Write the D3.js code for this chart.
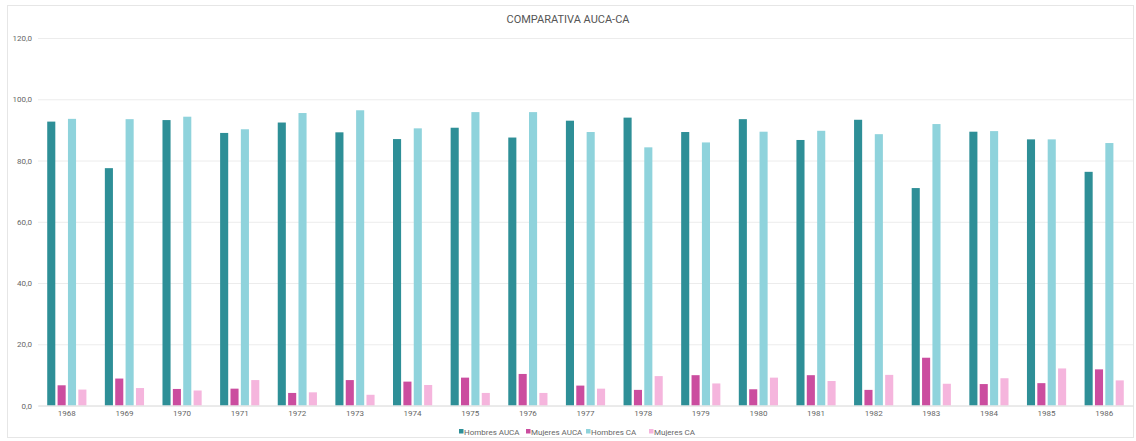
<!DOCTYPE html>
<html><head><meta charset="utf-8">
<script src="https://cdn.jsdelivr.net/npm/d3@7"></script>
<style>body{margin:0;background:#fff}svg{display:block}text{font-family:Roboto,"Liberation Sans",sans-serif}</style>
</head><body>
<svg id="c" width="1136" height="441"></svg>
<script>
const years = ["1968","1969","1970","1971","1972","1973","1974","1975","1976","1977","1978","1979","1980","1981","1982","1983","1984","1985","1986"];
const seriesNames = ["Hombres AUCA","Mujeres AUCA","Hombres CA","Mujeres CA"];
const hombresAUCA = [92.7,77.5,93.2,89.0,92.4,89.2,87.0,90.7,87.5,93.0,94.0,89.3,93.5,86.7,93.3,71.0,89.4,86.9,76.3];
const mujeresAUCA = [6.6,8.8,5.4,5.5,4.1,8.3,7.8,9.1,10.3,6.5,5.1,9.9,5.3,9.9,5.1,15.6,7.0,7.3,11.8];
const hombresCA = [93.6,93.5,94.3,90.2,95.5,96.4,90.5,95.8,95.8,89.3,84.3,85.9,89.4,89.7,88.6,91.9,89.6,86.9,85.7];
const mujeresCA = [5.2,5.7,4.9,8.3,4.3,3.5,6.7,4.1,4.1,5.5,9.6,7.2,9.1,8.0,10.0,7.1,8.9,12.1,8.2];
const yTicks = [0,20,40,60,80,100,120];
const colors = ["#2e8f97","#cb4d9f","#8fd3dc","#f5b5dd"];
const seriesData = [hombresAUCA, mujeresAUCA, hombresCA, mujeresCA];

const svg = d3.select("#c");
svg.append("rect").attr("x",7.5).attr("y",5.5).attr("width",1126).attr("height",432)
  .attr("fill","none").attr("stroke","#e6e6e6");

const x0 = d3.scaleBand().domain(years).range([38,1133]).paddingInner(0.32).paddingOuter(0.16);
const x1 = d3.scaleBand().domain(seriesNames).range([0,x0.bandwidth()]).paddingInner(0.22);
const y = d3.scaleLinear().domain([0,120]).range([405.5,38]);

// grid
const yAxis = svg.append("g").attr("transform","translate(38,0)")
  .call(d3.axisLeft(y).tickValues(yTicks).tickSize(-1095).tickFormat(d=>d3.format(".1f")(d).replace(".",",")));
yAxis.select(".domain").remove();
yAxis.selectAll("line").attr("stroke","#ececec");
yAxis.selectAll("text").attr("x",-6).attr("fill","#666").style("font-size","8px");

// bars
const g = svg.append("g");
seriesNames.forEach((s,si)=>{
  g.selectAll(".b"+si).data(years).enter().append("rect")
    .attr("x",d=>x0(d)+x1(s))
    .attr("width",x1.bandwidth())
    .attr("y",(d,i)=>y(seriesData[si][i]))
    .attr("height",(d,i)=>y(0)-y(seriesData[si][i]))
    .attr("fill",colors[si]);
});

// x axis
const xAxis = svg.append("g").attr("transform","translate(0,405.5)")
  .call(d3.axisBottom(x0).tickSize(0).tickPadding(5));
xAxis.select(".domain").attr("stroke","#e0e0e0");
xAxis.selectAll("text").attr("fill","#666").style("font-size","8px");

// title
svg.append("text").attr("x",568).attr("y",23).attr("text-anchor","middle")
  .attr("fill","#555").style("font-size","11px").text("COMPARATIVA AUCA-CA");

// legend
const legendX = [459,526,586,649];
const lg = svg.append("g");
seriesNames.forEach((s,i)=>{
  lg.append("rect").attr("x",legendX[i]).attr("y",429).attr("width",4.5).attr("height",4.5).attr("fill",colors[i]);
  lg.append("text").attr("x",legendX[i]+5).attr("y",434.5).attr("fill","#666").style("font-size","8px").text(s);
});
</script>
</body></html>
